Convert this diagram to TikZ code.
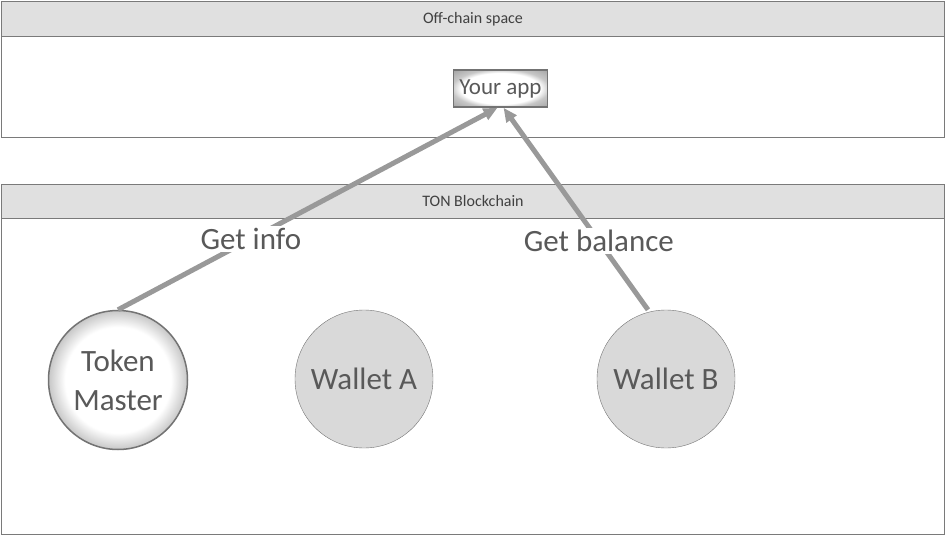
\documentclass[tikz,border=0pt]{standalone}
\usepackage{fontspec}
\setmainfont{Carlito}
\usetikzlibrary{arrows.meta,positioning}

\definecolor{framegray}{HTML}{7A7A7A}
\definecolor{bandgray}{HTML}{E0E0E0}
\definecolor{nodegray}{HTML}{D9D9D9}
\definecolor{arrowgray}{HTML}{999999}
\definecolor{textgray}{HTML}{595959}
\pgfdeclareradialshading{softglow}{\pgfpoint{0bp}{0bp}}{color(0bp)=(white); color(19bp)=(white); color(25bp)=(black!22); color(50bp)=(black!22)}
\pgfdeclareradialshading{boxglow}{\pgfpoint{0bp}{0bp}}{color(0bp)=(white); color(21bp)=(white); color(26bp)=(black!22); color(35bp)=(black!35); color(50bp)=(black!35)}

\begin{document}
\begin{tikzpicture}[x=1pt,y=-1pt]
      \useasboundingbox (0,0) rectangle (946,536);
      % the two areas
      \begin{scope}[every node/.style={draw= framegray,line width=1pt,inner sep=0pt,anchor=north west}]
        \node (offchain) [minimum width=943pt,minimum height=136pt] at (1,1) {};
        \node (offhead) [fill= bandgray,minimum width=943pt,minimum height=35pt] at (1,1) {};
        \node (ton) [minimum width=943pt,minimum height=350pt] at (1,184) {};
        \node (tonhead) [fill= bandgray,minimum width=943pt,minimum height=34pt] at (1,184) {};
      \end{scope}
      \node [text= black!75,font=\fontsize{16}{18}\selectfont] at (offhead.center) {Off-chain space};
      \node [text= black!75,font=\fontsize{16}{18}\selectfont] at (tonhead.center) {TON Blockchain};
      % app and contracts
      \begin{scope}[every node/.style={draw= black!55,text= textgray}]
        \node (app) [rectangle,line width=1.5pt,inner sep=0pt,minimum width=94pt,minimum height=37pt,
          shading=boxglow,font=\fontsize{23}{26}\selectfont] at (500.5,88.5) {Your app};
        \node (master) [circle,line width=1.5pt,minimum size=139pt,inner sep=0pt,align=center,
          shading=softglow,font=\fontsize{31}{39}\selectfont] at (118,380) {Token\\Master};
        \node (walletA) [circle,minimum size=138pt,inner sep=0pt,fill= nodegray,
          font=\fontsize{31}{34}\selectfont] at (364,379) {Wallet A};
        \node (walletB) [circle,minimum size=138pt,inner sep=0pt,fill= nodegray,
          font=\fontsize{31}{34}\selectfont] at (666,379) {Wallet B};
      \end{scope}
      % requests
      \begin{scope}
        [every edge/.style={draw= arrowgray,line width=5pt,-{Triangle[length=14pt,width=12pt]}},
        every node/.style={fill= white,text= textgray,inner sep=2pt,font=\fontsize{31}{34}\selectfont}]
        \path (master.north) edge node [pos=0.35] {Get info} ([xshift=-3pt]app.south);
        \path ([xshift=-18pt]walletB.north) edge node [pos=0.34] {Get balance} ([xshift=3pt]app.south);
      \end{scope}
    \end{tikzpicture}
\end{document}
